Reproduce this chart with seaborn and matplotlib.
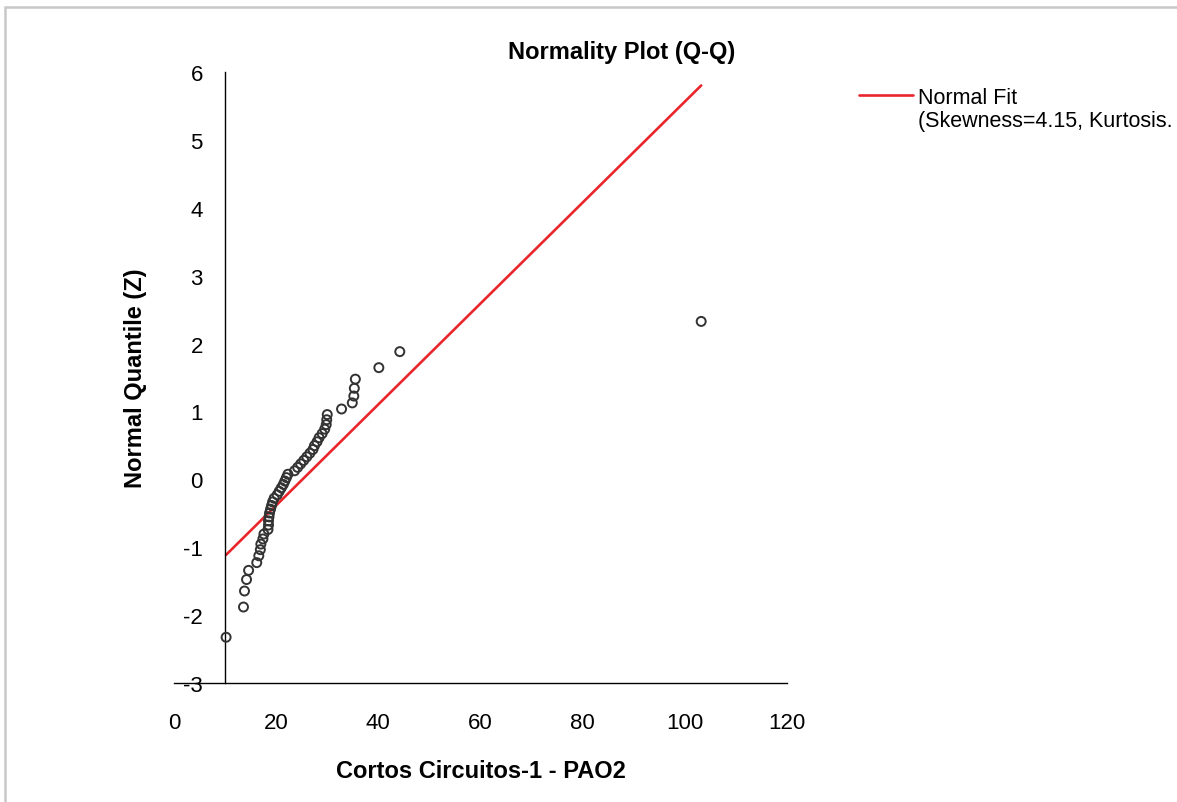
import numpy as np
import pandas as pd
import matplotlib
matplotlib.use('Agg')
import matplotlib.pyplot as plt
from matplotlib.lines import Line2D
import seaborn as sns

# values
cortos = [10.2, 13.6, 13.8, 14.2, 14.6, 16.2, 16.6, 16.9, 17.0, 17.4,
          17.6, 18.4, 18.5, 18.5, 18.6, 18.7, 18.9, 19.1, 19.3, 19.6,
          20.2, 20.6, 21.0, 21.4, 21.7, 22.0, 22.3, 23.6, 24.2, 24.8,
          25.4, 26.0, 26.6, 27.2, 27.5, 28.0, 28.4, 29.0, 29.5, 29.8,
          29.9, 30.0, 32.8, 34.9, 35.2, 35.3, 35.5, 40.1, 44.2, 103.2]
z_quant = [-2.326, -1.881, -1.645, -1.476, -1.341, -1.227, -1.126, -1.036, -0.954, -0.878,
           -0.806, -0.739, -0.674, -0.613, -0.553, -0.496, -0.440, -0.385, -0.332, -0.279,
           -0.228, -0.176, -0.126, -0.075, -0.025, 0.025, 0.075, 0.126, 0.176, 0.228,
           0.279, 0.332, 0.385, 0.440, 0.496, 0.553, 0.613, 0.674, 0.739, 0.806,
           0.878, 0.954, 1.036, 1.126, 1.227, 1.341, 1.476, 1.645, 1.881, 2.326]
x_ticks = [0, 20, 40, 60, 80, 100, 120]
y_ticks = [-3, -2, -1, 0, 1, 2, 3, 4, 5, 6]
fit_label = 'Normal Fit'
stats_label = '(Skewness=4.15, Kurtosis.'

data = pd.DataFrame({'x': cortos, 'z': z_quant})
mean, sd = data['x'].mean(), data['x'].std()
fit = pd.DataFrame({'x': [data['x'].min(), data['x'].max()]})
fit['z'] = (fit['x'] - mean) / sd

sns.set_style('white')
plt.rcParams['font.family'] = ['Liberation Sans', 'DejaVu Sans']
plt.rcParams['axes.unicode_minus'] = False
plt.rcParams['text.color'] = 'black'
plt.rcParams['axes.labelcolor'] = 'black'
plt.rcParams['xtick.color'] = 'black'
plt.rcParams['ytick.color'] = 'black'

fig = plt.figure(figsize=(11.77, 8.03), dpi=100)
ax = fig.add_axes([174 / 1177, 1 - 684 / 803, 613 / 1177, 611 / 803])

sns.lineplot(data=fit, x='x', y='z', color='#e8262c', linewidth=1.9, ax=ax)
sns.scatterplot(data=data, x='x', y='z', marker='o', s=42, facecolors='none',
                edgecolor='#333333', linewidth=1.4, ax=ax, zorder=3)

ax.set_xlim(0, 120)
ax.set_ylim(-3, 6)
ax.set_xticks(x_ticks)
ax.set_yticks(y_ticks)
for s in ['top', 'right']:
    ax.spines[s].set_visible(False)
ax.spines['left'].set_position(('data', 10))
for s in ['left', 'bottom']:
    ax.spines[s].set_color('black')
    ax.spines[s].set_linewidth(1.0)
ax.tick_params(axis='both', direction='out', length=5, width=1, color='black', labelsize=16)
ax.tick_params(axis='y', pad=11)
ax.tick_params(axis='x', pad=16)

ax.set_xlabel('Cortos Circuitos-1 - PAO2', fontsize=17, fontweight='bold', va='center')
ax.set_ylabel('Normal Quantile (Z)', fontsize=17, fontweight='bold', va='center')
ax.xaxis.set_label_coords(0.5, -0.143)
ax.yaxis.set_label_coords(-0.0636, 0.5)

fig.text(0.528, 1 - 53 / 803, 'Normality Plot (Q-Q)', ha='center', va='center',
         fontsize=17, fontweight='bold')

handles = [Line2D([], [], color='#e8262c', linewidth=1.9), Line2D([], [], color='none')]
fig.legend(handles, [fit_label, stats_label], loc='upper left',
           bbox_to_anchor=(859 / 1177, 1 - 88 / 803), frameon=False, fontsize=15.5,
           handlelength=2.5, handletextpad=0.25, labelspacing=0.1, borderpad=0,
           borderaxespad=0)

# light gray chart-area border (top and left edges visible)
fig.add_artist(plt.Rectangle((5 / 1177, -0.1), 1.2, 1.1 - 8 / 803, transform=fig.transFigure,
                             fill=False, edgecolor='#c8c8c8', linewidth=1.8))

fig.savefig('out.png', dpi=100)
